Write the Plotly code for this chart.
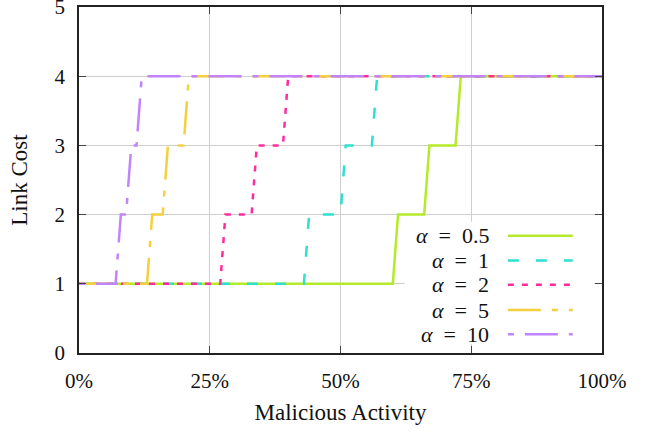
import plotly.graph_objects as go

# ---- data ----
alphas = ["0.5", "1", "2", "5", "10"]
x_a05 = [0, 60, 61, 66, 67, 72, 73, 100]
x_a1 = [0, 43, 44, 50, 51, 56, 57, 100]
x_a2 = [0, 27, 28, 33, 34, 39, 40, 100]
x_a5 = [0, 13, 14, 16, 17, 20, 21, 100]
x_a10 = [0, 7, 8, 9, 10, 11, 12, 100]
cost_levels = [1, 1, 2, 2, 3, 3, 4, 4]
x_tickvals = [0, 25, 50, 75, 100]
x_ticktext = ["0%", "25%", "50%", "75%", "100%"]
y_tickvals = [0, 1, 2, 3, 4, 5]

series_x = [x_a05, x_a1, x_a2, x_a5, x_a10]
colors = ["#b5ea2a", "#2ee0cf", "#ff2c9c", "#f4d03f", "#c084fc"]
dashes = ["solid", "11px,17px", "6px,8px", "33px,11px,6px,11px", "6px,11px,33px,11px"]

FONT = "Liberation Serif"
LW = 2.5
SP = "\u00a0\u00a0"

fig = go.Figure()
for a, xs, c, d in zip(alphas, series_x, colors, dashes):
    fig.add_trace(go.Scatter(x=xs, y=cost_levels, mode="lines", name="α = " + a,
                             line=dict(color=c, width=LW, dash=d), showlegend=False))

axis_common = dict(showline=True, linecolor="#222222", linewidth=1.5, mirror="allticks",
                   ticks="inside", ticklen=7, tickwidth=1.2, tickcolor="#444444",
                   showgrid=True, gridcolor="#cfcfcf", gridwidth=1, zeroline=False,
                   ticklabeloverflow="allow", automargin=False,
                   tickfont=dict(family=FONT, size=21, color="#111111"))

fig.update_xaxes(range=[0, 100], tickvals=x_tickvals, ticktext=x_ticktext,
                 title=dict(text="Malicious Activity", font=dict(family=FONT, size=23, color="#111111"), standoff=12),
                 ticklabelstandoff=8, **axis_common)
fig.update_yaxes(range=[0, 5.0001], tickvals=y_tickvals,
                 title=dict(text="Link Cost", font=dict(family=FONT, size=23, color="#111111"), standoff=20),
                 ticklabelstandoff=8, **axis_common)

# legend box (white, hides gridlines) with text on the left and line samples on the right
shapes = [dict(type="rect", xref="paper", yref="paper", x0=0.623, x1=0.985, y0=0.025, y1=0.379,
               fillcolor="white", line=dict(width=0), layer="above")]
row_y = [0.339, 0.267, 0.197, 0.124, 0.054]
annotations = []
for a, c, d, yy in zip(alphas, colors, dashes, row_y):
    shapes.append(dict(type="line", xref="paper", yref="paper", x0=0.820, x1=0.944, y0=yy, y1=yy,
                       line=dict(color=c, width=LW, dash=d), layer="above"))
    annotations.append(dict(xref="paper", yref="paper", x=0.7876, y=yy, xanchor="right", yanchor="middle",
                            text="<i>α</i>" + SP + "=" + SP + a, showarrow=False,
                            font=dict(family=FONT, size=22, color="#111111")))

fig.update_layout(width=652, height=434, margin=dict(l=79, r=50, t=7, b=81),
                  plot_bgcolor="white", paper_bgcolor="white",
                  shapes=shapes, annotations=annotations, showlegend=False)

fig.write_html("out.html", config={"displayModeBar": False},
               post_script="document.body.style.margin='0';")
